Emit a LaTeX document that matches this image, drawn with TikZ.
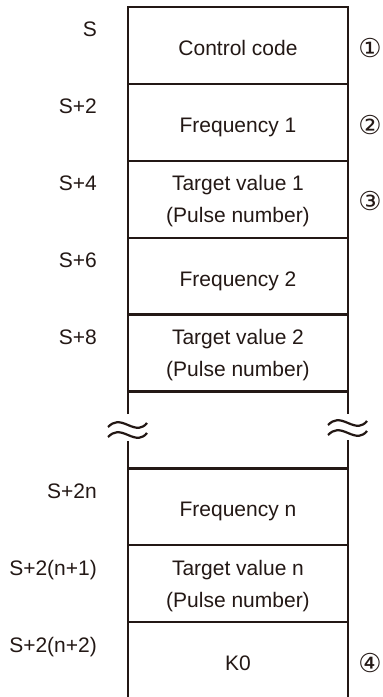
\documentclass[tikz,border=0pt]{standalone}
\usepackage{fontspec}
\setmainfont{Liberation Sans}
\newfontfamily\circfont{DejaVu Sans}
\definecolor{ink}{HTML}{231815}

\begin{document}
\begin{tikzpicture}[x=1pt, y=-1pt, line width=2.3pt,
    every node/.style={font=\fontsize{21}{32}\selectfont, text=ink, inner sep=0pt}]

    \tikzset{
        celltext/.style={anchor=base},
        pairtext/.style={align=center, anchor=center, yshift=-2pt},
        addrlabel/.style={anchor=base east},
        marknum/.style={font=\circfont\fontsize{26}{26}\selectfont, anchor=center},
        breakwave/.style={draw=ink, line width=2.2pt},
    }

    \useasboundingbox (0,0) rectangle (383,697);

    % --- Frame: top edge and both sides, broken at the gap row ---
    \draw[ink, line join=miter] (128,414) -- (128,7) -- (348,7) -- (348,414);
    \draw[ink] (128,441) -- (128,697);
    \draw[ink] (348,440) -- (348,697);

    % --- Row separators (rows are 76.9 high) ---
    \foreach \y in {83.9,160.8,237.7,314.6,391.5,468.4,545.3,622.2}
        \draw[ink] (128,\y) -- (348,\y);

    % --- Break marks on the two sides ---
    \foreach \x/\y in {128/425, 348/423} {
        \draw[breakwave] (\x-20,\y+2) .. controls (\x-14,\y-4) and (\x-9,\y-4) .. (\x,\y) .. controls (\x+9,\y+4) and (\x+14,\y+4) .. (\x+19,\y-2);
        \draw[breakwave] (\x-20,\y+12) .. controls (\x-14,\y+6) and (\x-9,\y+6) .. (\x,\y+10) .. controls (\x+9,\y+14) and (\x+14,\y+14) .. (\x+19,\y+8);
    }

    % --- Cell contents ---
    \node[celltext] (ctrl)  at (238,55.5)  {Control code};
    \node[celltext] (freq1) at (238,132.4) {Frequency 1};
    \node[pairtext] (targ1) at (238,199.25) {Target value 1\\(Pulse number)};
    \node[celltext] (freq2) at (238,286.2) {Frequency 2};
    \node[pairtext] (targ2) at (238,353.05) {Target value 2\\(Pulse number)};
    \node[celltext] (freqn) at (238,516.9) {Frequency n};
    \node[pairtext] (targn) at (238,583.75) {Target value n\\(Pulse number)};
    \node[celltext] (kzero) at (238,670.7) {K0};

    % --- Device addresses on the left ---
    \node[addrlabel] (aS)   at (98,36.5)  {S};
    \node[addrlabel] (aS2)  at (98,113.4) {S+2};
    \node[addrlabel] (aS4)  at (98,190.3) {S+4};
    \node[addrlabel] (aS6)  at (98,267.2) {S+6};
    \node[addrlabel] (aS8)  at (98,344.1) {S+8};
    \node[addrlabel] (aS2n) at (98,498.4) {S+2n};
    \node[addrlabel] (aS2a) at (98,575.3) {S+2(n+1)};
    \node[addrlabel] (aS2b) at (98,652.2) {S+2(n+2)};

    % --- Circled markers on the right ---
    \node[marknum] (m1) at (370,48)  {①};
    \node[marknum] (m2) at (370,125) {②};
    \node[marknum] (m3) at (370,201) {③};
    \node[marknum] (m4) at (370,663) {④};

\end{tikzpicture}
\end{document}
